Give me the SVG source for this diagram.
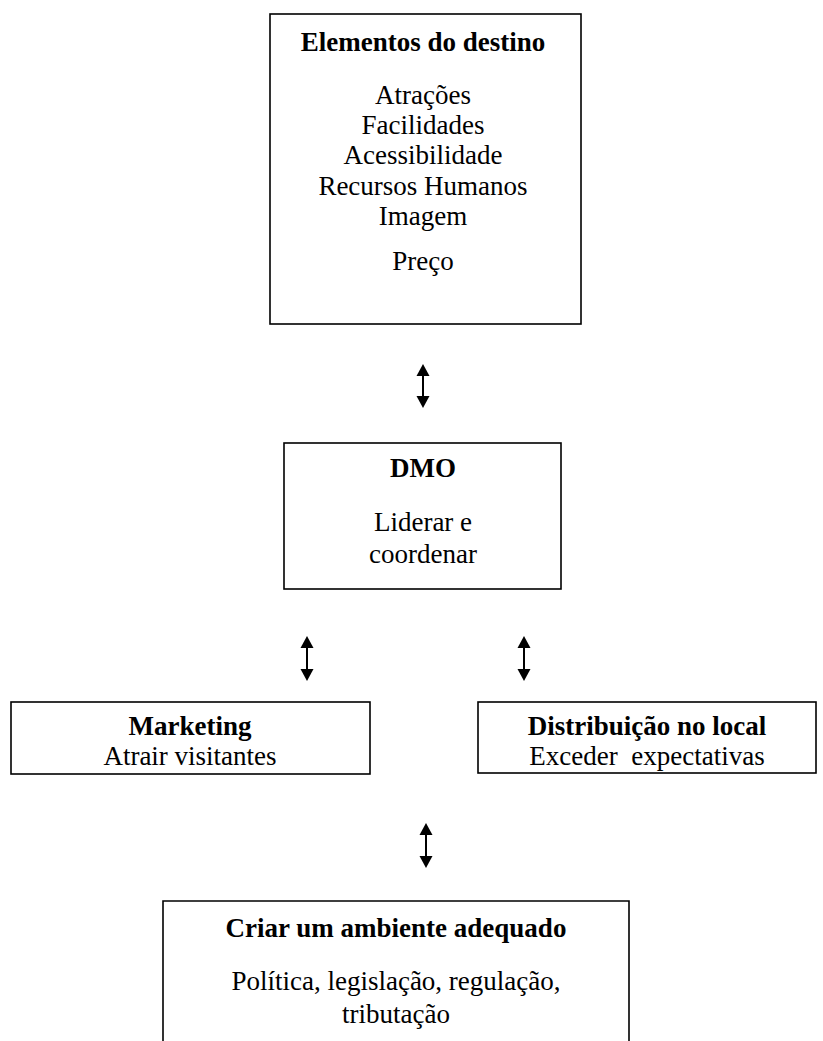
<svg xmlns="http://www.w3.org/2000/svg" width="823" height="1041" viewBox="0 0 823 1041">
<style>
.box{fill:#fff;stroke:#000;stroke-width:1.6}
.t{font-family:"Liberation Serif","Times New Roman",serif;font-size:27px;fill:#000;text-anchor:middle}
.b{font-weight:bold}
.c{stroke:#000;stroke-width:2;fill:none}
.h{fill:#000}
</style>
<rect width="823" height="1041" fill="#fff"/>
<g id="elementos">
<rect class="box" x="270" y="14" width="311" height="310"/>
<text class="t b" x="423" y="51">Elementos do destino</text>
<text class="t" x="423" y="104">Atrações</text>
<text class="t" x="423" y="134">Facilidades</text>
<text class="t" x="423" y="164">Acessibilidade</text>
<text class="t" x="423" y="195">Recursos Humanos</text>
<text class="t" x="423" y="225">Imagem</text>
<text class="t" x="423" y="270">Preço</text>
</g>
<g id="dmo">
<rect class="box" x="284" y="443" width="277" height="146"/>
<text class="t b" x="423" y="477">DMO</text>
<text class="t" x="423" y="531">Liderar e</text>
<text class="t" x="423" y="563">coordenar</text>
</g>
<g id="marketing">
<rect class="box" x="11" y="702" width="359" height="72"/>
<text class="t b" x="190" y="735">Marketing</text>
<text class="t" x="190" y="765">Atrair visitantes</text>
</g>
<g id="distribuicao">
<rect class="box" x="478" y="702" width="338" height="71"/>
<text class="t b" x="647" y="735">Distribuição no local</text>
<text class="t" x="647" y="765" xml:space="preserve">Exceder  expectativas</text>
</g>
<g id="ambiente">
<path class="box" d="M163,1045 V901 H629 V1045"/>
<text class="t b" x="396" y="937">Criar um ambiente adequado</text>
<text class="t" x="396" y="990">Política, legislação, regulação,</text>
<text class="t" x="396" y="1023">tributação</text>
</g>
<g id="connectors">
<line class="c" x1="423" y1="374" x2="423" y2="398"/>
<path class="h" d="M423,364 L416.5,376 L429.5,376 Z"/>
<path class="h" d="M423,408 L416.5,396 L429.5,396 Z"/>
<line class="c" x1="307" y1="646" x2="307" y2="671"/>
<path class="h" d="M307,636 L300.5,648 L313.5,648 Z"/>
<path class="h" d="M307,681 L300.5,669 L313.5,669 Z"/>
<line class="c" x1="524" y1="646" x2="524" y2="671"/>
<path class="h" d="M524,636 L517.5,648 L530.5,648 Z"/>
<path class="h" d="M524,681 L517.5,669 L530.5,669 Z"/>
<line class="c" x1="426" y1="833" x2="426" y2="858"/>
<path class="h" d="M426,823 L419.5,835 L432.5,835 Z"/>
<path class="h" d="M426,868 L419.5,856 L432.5,856 Z"/>
</g>
</svg>
